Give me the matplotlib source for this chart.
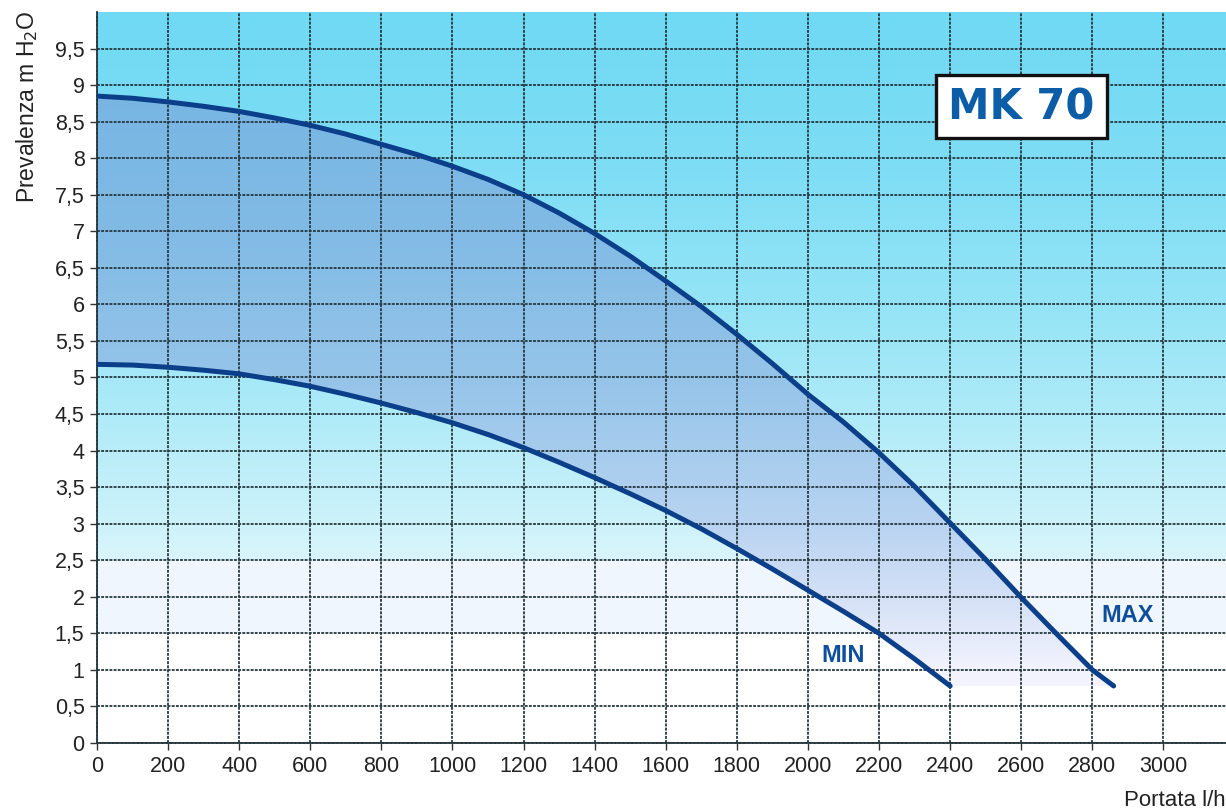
import numpy as np
import matplotlib
matplotlib.use("Agg")
import matplotlib.pyplot as plt
from matplotlib.patches import Rectangle

# Pump curve MK 70: flow (l/h) vs head (m H2O)
flow_max = [0, 100, 200, 300, 400, 500, 600, 700, 800, 900, 1000, 1100, 1200, 1300,
            1400, 1500, 1600, 1700, 1800, 1900, 2000, 2100, 2200, 2300, 2400, 2500,
            2600, 2700, 2800, 2860]
head_max = [8.85, 8.82, 8.77, 8.71, 8.64, 8.55, 8.45, 8.33, 8.19, 8.05, 7.89, 7.71,
            7.50, 7.25, 6.97, 6.66, 6.32, 5.97, 5.59, 5.19, 4.77, 4.39, 3.97, 3.51,
            3.01, 2.51, 1.99, 1.49, 1.00, 0.78]
flow_min = [0, 100, 200, 300, 400, 500, 600, 700, 800, 900, 1000, 1100, 1200, 1300,
            1400, 1500, 1600, 1700, 1800, 1900, 2000, 2100, 2200, 2300, 2400]
head_min = [5.18, 5.17, 5.14, 5.10, 5.05, 4.97, 4.88, 4.77, 4.65, 4.52, 4.38, 4.22,
            4.04, 3.84, 3.63, 3.41, 3.18, 2.93, 2.66, 2.38, 2.09, 1.80, 1.50, 1.15, 0.78]

x_ticks = list(range(0, 3001, 200))
y_ticks = [i * 0.5 for i in range(20)]
y_labels = [("%g" % v).replace(".", ",") for v in y_ticks]

X_MAX, Y_MAX = 3176, 10

W, H = 1226, 811
fig = plt.figure(figsize=(W / 100, H / 100), dpi=100)
ax = fig.add_axes([97 / W, (H - 743) / H, (W - 97) / W, (743 - 12) / H])
ax.set_xlim(0, X_MAX)
ax.set_ylim(0, Y_MAX)

# vertical background gradient: cyan at the top fading to white near the bottom
yy = np.linspace(0, Y_MAX, 800)
stops = np.array([0.0, 1.5, 1.5001, 2.5, 2.5001, 3.0, 4.5, 6.0, 8.0, 10.0])
cols = np.array([
    [255, 255, 255], [255, 255, 255], [240, 246, 253], [240, 246, 253],
    [218, 245, 251], [205, 242, 250], [175, 235, 248], [148, 228, 246],
    [125, 221, 245], [112, 217, 244]]) / 255.0
bg = np.stack([np.interp(yy, stops, cols[:, k]) for k in range(3)], axis=-1)
bg = np.repeat(bg[:, None, :], 4, axis=1)
ax.imshow(bg, extent=[0, X_MAX, 0, Y_MAX], origin="lower", aspect="auto",
          interpolation="bilinear", zorder=0)

# shaded operating range between MIN and MAX curves
poly_x = flow_max + flow_min[::-1]
poly_y = head_max + head_min[::-1]
region = ax.fill(poly_x, poly_y, facecolor="none", edgecolor="none", zorder=0.4)[0]
fstops = np.array([0.0, 1.0, 2.0, 3.0, 4.0, 5.0, 7.0, 9.0, 10.0])
fcols = np.array([
    [246, 247, 254], [242, 243, 253], [212, 224, 246], [184, 211, 241],
    [166, 204, 237], [149, 196, 233], [129, 187, 229], [119, 181, 227],
    [116, 179, 226]]) / 255.0
fg = np.stack([np.interp(yy, fstops, fcols[:, k]) for k in range(3)], axis=-1)
fg = np.repeat(fg[:, None, :], 4, axis=1)
fimg = ax.imshow(fg, extent=[0, X_MAX, 0, Y_MAX], origin="lower", aspect="auto",
                 interpolation="bilinear", zorder=0.5)
fimg.set_clip_path(region)

# grid
ax.set_xticks(x_ticks)
ax.set_yticks(y_ticks)
ax.set_yticklabels(y_labels)
ax.grid(True, color="#263840", linewidth=1.3, linestyle=(0, (1.6, 0.7)))
for side in ("top", "right"):
    ax.spines[side].set_visible(False)
for side in ("left", "bottom"):
    ax.spines[side].set_color("#263840")
    ax.spines[side].set_linewidth(1.3)
    ax.spines[side].set_linestyle((0, (1.6, 0.7)))

ax.tick_params(axis="both", direction="out", length=5, width=1.0, color="#333333",
               labelsize=15.5, labelcolor="#222222", pad=4)
for lab in ax.get_xticklabels() + ax.get_yticklabels():
    lab.set_family("Liberation Sans")

# curves
line_kw = dict(color="#0c3f8a", linewidth=3.6, solid_capstyle="round",
               solid_joinstyle="round", zorder=3)
ax.plot(flow_max, head_max, **line_kw)
ax.plot(flow_min, head_min, **line_kw)

ax.text(2098, 1.2, "MIN", ha="center", va="center", fontsize=17,
        fontweight="bold", color="#0d4f9c", family="Liberation Sans", zorder=4)
ax.text(2900, 1.75, "MAX", ha="center", va="center", fontsize=17,
        fontweight="bold", color="#0d4f9c", family="Liberation Sans", zorder=4)

# model badge
ax.add_patch(Rectangle((2360, 8.27), 481, 0.87, facecolor="white",
                       edgecolor="#111111", linewidth=2.4, zorder=5))
ax.text(2600, 8.70, "MK 70", ha="center", va="center", fontsize=30,
        fontweight="bold", color="#0b5da8", family="DejaVu Sans", zorder=6)

# axis titles
fig.text(27 / W, 1 - 10 / H, "Prevalenza m H$_2$O", rotation=90, ha="center",
         va="top", fontsize=16.5, color="#222222", family="Liberation Sans")
fig.text(1.0, 1 - 800 / H, "Portata l/h", ha="right", va="center",
         fontsize=16, color="#222222", family="Liberation Sans")

fig.savefig("out.png", dpi=100)
